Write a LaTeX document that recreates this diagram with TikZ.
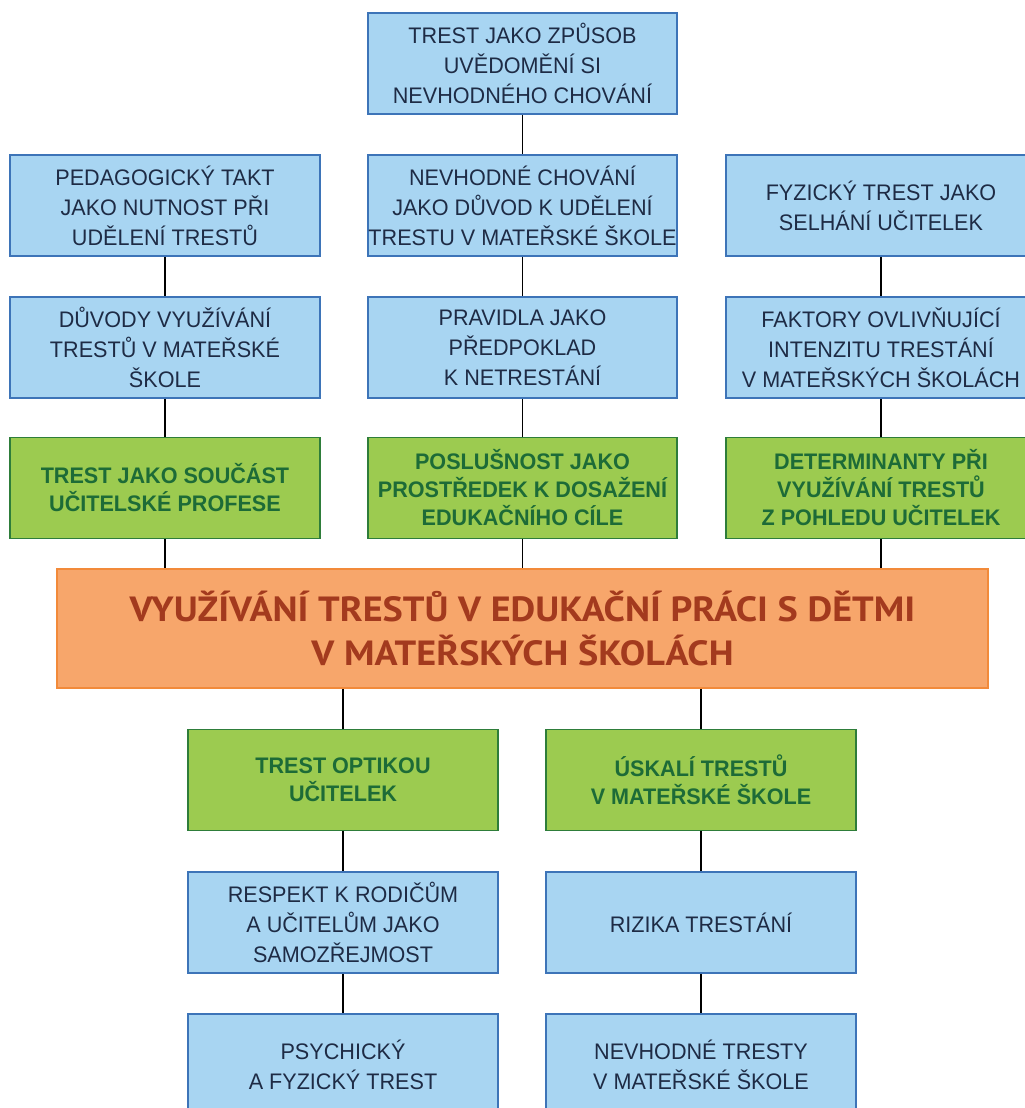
\documentclass[tikz,border=0pt]{standalone}
\usepackage{fontspec}
\setmainfont{Liberation Sans}[FakeStretch=0.96]
\newfontfamily\titlefont{PT Sans}[FakeStretch=1.09]
\definecolor{bluefill}{HTML}{A8D5F2}
\definecolor{blueline}{HTML}{3D74B8}
\definecolor{bluetext}{HTML}{1E2B45}
\definecolor{greenfill}{HTML}{9CCB50}
\definecolor{greenline}{HTML}{2E7D3A}
\definecolor{greentext}{HTML}{1D6B37}
\definecolor{orangefill}{HTML}{F7A66B}
\definecolor{orangeline}{HTML}{F28A3A}
\definecolor{orangetext}{HTML}{A33A1E}
\begin{document}
\begin{tikzpicture}[x=1pt,y=-1pt,
  box/.style={draw, line width=1.5pt, minimum width=310pt, minimum height=101pt, inner sep=0pt, align=center},
  bluebox/.style={box, fill=bluefill, draw=blueline, text=bluetext, font=\fontsize{22.5}{30}\selectfont},
  greenbox/.style={box, fill=greenfill, draw=greenline, text=greentext, font=\fontsize{22.5}{28}\selectfont\bfseries},
  mainbox/.style={draw=orangeline, fill=orangefill, line width=1.5pt, minimum width=931pt, minimum height=119pt, inner sep=0pt, align=center, text=orangetext, font=\titlefont\bfseries\fontsize{35}{44}\selectfont},
  link/.style={draw=black, line width=1.6pt}]
\useasboundingbox (0,0) rectangle (1025,1108);
\clip (0,0) rectangle (1025,1108);
\fill[white] (0,0) rectangle (1025,1108);
% top
\node[bluebox, minimum width=309pt] (top) at (522.5,63.5) {TREST JAKO ZPŮSOB\\UVĚDOMĚNÍ SI\\NEVHODNÉHO CHOVÁNÍ};
% row 2
\node[bluebox] (l2) at (165,205.5) {PEDAGOGICKÝ TAKT\\JAKO NUTNOST PŘI\\UDĚLENÍ TRESTŮ};
\node[bluebox, minimum width=309pt] (c2) at (522.5,205.5) {NEVHODNÉ CHOVÁNÍ\\JAKO DŮVOD K UDĚLENÍ\\TRESTU V MATEŘSKÉ ŠKOLE};
\node[bluebox] (r2) at (881,205.5) {FYZICKÝ TREST JAKO\\SELHÁNÍ UČITELEK};
% row 3
\node[bluebox] (l3) at (165,347.5) {DŮVODY VYUŽÍVÁNÍ\\TRESTŮ V MATEŘSKÉ\\ŠKOLE};
\node[bluebox, minimum width=309pt] (c3) at (522.5,347.5) {PRAVIDLA JAKO\\PŘEDPOKLAD\\K NETRESTÁNÍ};
\node[bluebox] (r3) at (881,347.5) {FAKTORY OVLIVŇUJÍCÍ\\INTENZITU TRESTÁNÍ\\V MATEŘSKÝCH ŠKOLÁCH};
% row 4
\node[greenbox] (l4) at (165,488) {TREST JAKO SOUČÁST\\UČITELSKÉ PROFESE};
\node[greenbox, minimum width=309pt] (c4) at (522.5,488) {POSLUŠNOST JAKO\\PROSTŘEDEK K DOSAŽENÍ\\EDUKAČNÍHO CÍLE};
\node[greenbox] (r4) at (881,488) {DETERMINANTY PŘI\\VYUŽÍVÁNÍ TRESTŮ\\Z POHLEDU UČITELEK};
% main
\node[mainbox] (main) at (522.5,628.5) {VYUŽÍVÁNÍ TRESTŮ V EDUKAČNÍ PRÁCI S DĚTMI\\V MATEŘSKÝCH ŠKOLÁCH};
% bottom
\node[greenbox] (bl1) at (343,780) {TREST OPTIKOU\\UČITELEK};
\node[greenbox] (br1) at (701,780) {ÚSKALÍ TRESTŮ\\V MATEŘSKÉ ŠKOLE};
\node[bluebox] (bl2) at (343,922.5) {RESPEKT K RODIČŮM\\A UČITELŮM JAKO\\SAMOZŘEJMOST};
\node[bluebox] (br2) at (701,922.5) {RIZIKA TRESTÁNÍ};
\node[bluebox] (bl3) at (343,1064.5) {PSYCHICKÝ\\A FYZICKÝ TREST};
\node[bluebox] (br3) at (701,1064.5) {NEVHODNÉ TRESTY\\V MATEŘSKÉ ŠKOLE};
% links
\draw[link] (top.south) -- (c2.north);
\draw[link] (l2.south) -- (l3.north);
\draw[link] (c2.south) -- (c3.north);
\draw[link] (r2.south) -- (r3.north);
\draw[link] (l3.south) -- (l4.north);
\draw[link] (c3.south) -- (c4.north);
\draw[link] (r3.south) -- (r4.north);
\draw[link] (l4.south) -- (main.north -| l4.south);
\draw[link] (c4.south) -- (main.north -| c4.south);
\draw[link] (r4.south) -- (main.north -| r4.south);
\draw[link] (main.south -| bl1.north) -- (bl1.north);
\draw[link] (main.south -| br1.north) -- (br1.north);
\draw[link] (bl1.south) -- (bl2.north);
\draw[link] (bl2.south) -- (bl3.north);
\draw[link] (br1.south) -- (br2.north);
\draw[link] (br2.south) -- (br3.north);
\end{tikzpicture}
\end{document}
